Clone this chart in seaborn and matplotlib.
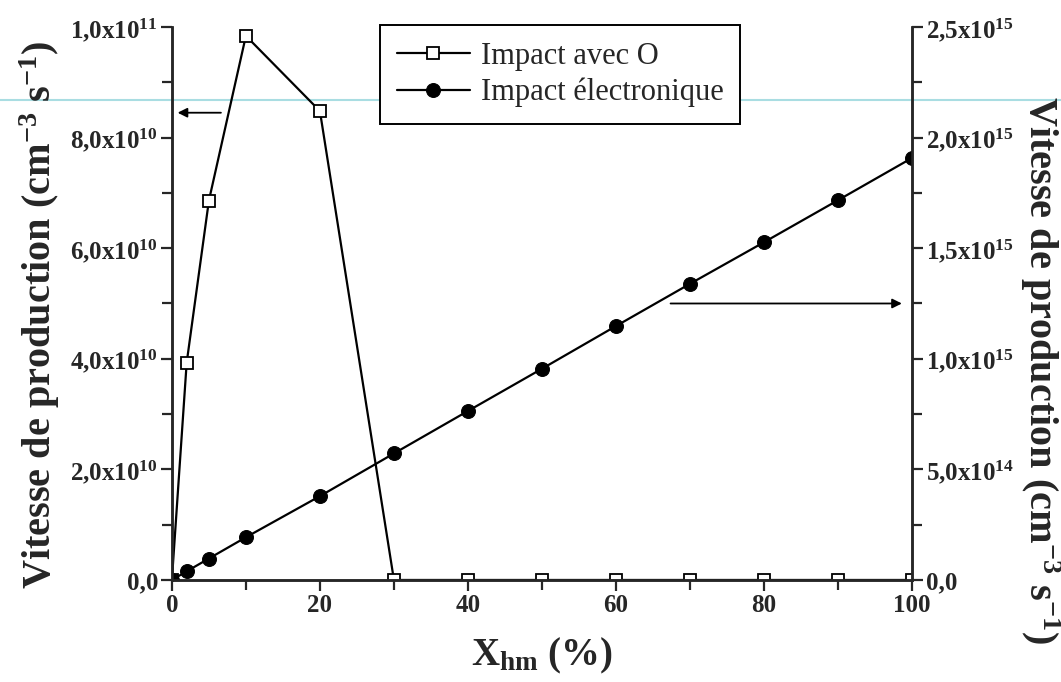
import matplotlib
matplotlib.use("Agg")

import matplotlib.pyplot as plt
from matplotlib.lines import Line2D
from matplotlib.ticker import FixedLocator, FixedFormatter, MultipleLocator
import seaborn as sns

# values
x_pct = [0, 2, 5, 10, 20, 30, 40, 50, 60, 70, 80, 90, 100]
impact_o = [0, 3.93e10, 6.86e10, 9.84e10, 8.48e10, 0, 0, 0, 0, 0, 0, 0, 0]
impact_elec = [0, 0.39e14, 0.97e14, 1.93e14, 3.79e14, 5.72e14, 7.64e14,
               9.55e14, 11.48e14, 13.39e14, 15.27e14, 17.17e14, 19.08e14]

x_ticks = [0, 20, 40, 60, 80, 100]
left_ticks = [0, 2e10, 4e10, 6e10, 8e10, 1e11]
left_tick_labels = ["0,0", r"2,0x10$^{\mathbf{10}}$", r"4,0x10$^{\mathbf{10}}$",
                    r"6,0x10$^{\mathbf{10}}$", r"8,0x10$^{\mathbf{10}}$", r"1,0x10$^{\mathbf{11}}$"]
right_ticks = [0, 5e14, 1e15, 1.5e15, 2e15, 2.5e15]
right_tick_labels = ["0,0", r"5,0x10$^{\mathbf{14}}$", r"1,0x10$^{\mathbf{15}}$",
                     r"1,5x10$^{\mathbf{15}}$", r"2,0x10$^{\mathbf{15}}$", r"2,5x10$^{\mathbf{15}}$"]

labels = ["Impact avec O", "Impact électronique"]
ylabel = r"Vitesse de production (cm$^{\mathbf{-3}}$ s$^{\mathbf{-1}}$)"
xlabel = r"X$_{\mathbf{hm}}$ (%)"

# arrows pointing at each series' axis: (x_from, x_to, y)
left_arrow = (7.0, 0.4, 8.45e10)
right_arrow = (67.0, 99.0, 1.25e15)

sns.set_style("ticks")
plt.rcParams["font.family"] = ["Liberation Serif", "DejaVu Serif"]
plt.rcParams["mathtext.fontset"] = "custom"
plt.rcParams["mathtext.rm"] = "Liberation Serif"
plt.rcParams["mathtext.bf"] = "Liberation Serif:bold"
plt.rcParams["mathtext.it"] = "Liberation Serif:italic"

fig, ax = plt.subplots(figsize=(10.61, 6.82), dpi=100)
fig.subplots_adjust(left=0.162, right=0.8596, bottom=0.1496, top=0.9604)
ax2 = ax.twinx()
ax.patch.set_visible(False)
ax2.patch.set_visible(False)

sns.lineplot(x=x_pct, y=impact_o, ax=ax, color="black", linewidth=1.6,
             marker="s", markersize=8, markerfacecolor="white",
             markeredgecolor="black", markeredgewidth=1.3, label=labels[0], legend=False)
sns.lineplot(x=x_pct, y=impact_elec, ax=ax2, color="black", linewidth=1.6,
             marker="o", markersize=10, markerfacecolor="black",
             markeredgecolor="black", label=labels[1], legend=False)

ax.set_xlim(0, 100)
ax.set_ylim(0, 1e11)
ax2.set_ylim(0, 2.5e15)

for a in (ax, ax2):
    a.spines["top"].set_visible(False)
    for s in ("left", "right", "bottom"):
        a.spines[s].set_linewidth(1.8)

ax.xaxis.set_major_locator(FixedLocator(x_ticks))
ax.xaxis.set_minor_locator(MultipleLocator(10))
ax.yaxis.set_major_locator(FixedLocator(left_ticks))
ax.yaxis.set_major_formatter(FixedFormatter(left_tick_labels))
ax.yaxis.set_minor_locator(MultipleLocator(1e10))
ax2.yaxis.set_major_locator(FixedLocator(right_ticks))
ax2.yaxis.set_major_formatter(FixedFormatter(right_tick_labels))
ax2.yaxis.set_minor_locator(MultipleLocator(2.5e14))

ax.tick_params(axis="both", which="major", length=8, width=1.6, pad=2, labelsize=18)
ax.tick_params(axis="both", which="minor", length=7, width=1.6)
ax2.tick_params(axis="y", which="major", length=8, width=1.6, pad=2, labelsize=18)
ax2.tick_params(axis="y", which="minor", length=7, width=1.6)
for lab in ax.get_xticklabels() + ax.get_yticklabels() + ax2.get_yticklabels():
    lab.set_fontweight("bold")

ax.set_xlabel(xlabel, fontsize=28, fontweight="bold", labelpad=14)
ax.set_ylabel(ylabel, fontsize=29, fontweight="bold")
ax.yaxis.set_label_coords(-0.149, 0.48)
ax2.set_ylabel(ylabel, fontsize=29, fontweight="bold", rotation=270, va="bottom")
ax2.yaxis.set_label_coords(1.143, 0.38)

ax.annotate("", xy=(left_arrow[1], left_arrow[2]), xytext=(left_arrow[0], left_arrow[2]),
            arrowprops=dict(arrowstyle="-|>", color="black", lw=1.3, mutation_scale=14))
ax2.annotate("", xy=(right_arrow[1], right_arrow[2]), xytext=(right_arrow[0], right_arrow[2]),
             arrowprops=dict(arrowstyle="-|>", color="black", lw=1.3, mutation_scale=14))

handles = ax.get_lines()[:1] + ax2.get_lines()[:1]
leg = ax2.legend(handles, labels, loc="upper left", bbox_to_anchor=(0.358, 0.963),
                 bbox_transform=fig.transFigure, fontsize=22, frameon=True,
                 fancybox=False, framealpha=1, edgecolor="black", handlelength=2.4,
                 handletextpad=0.35, borderpad=0.55, borderaxespad=0,
                 labelspacing=0.22, numpoints=1)
leg.get_frame().set_linewidth(1.4)

# faint scanner line across the page
fig.add_artist(Line2D([0, 1], [0.853, 0.853], transform=fig.transFigure,
                      color="#a9dde2", linewidth=1.5, zorder=-1))

fig.savefig("out.png", dpi=100)
